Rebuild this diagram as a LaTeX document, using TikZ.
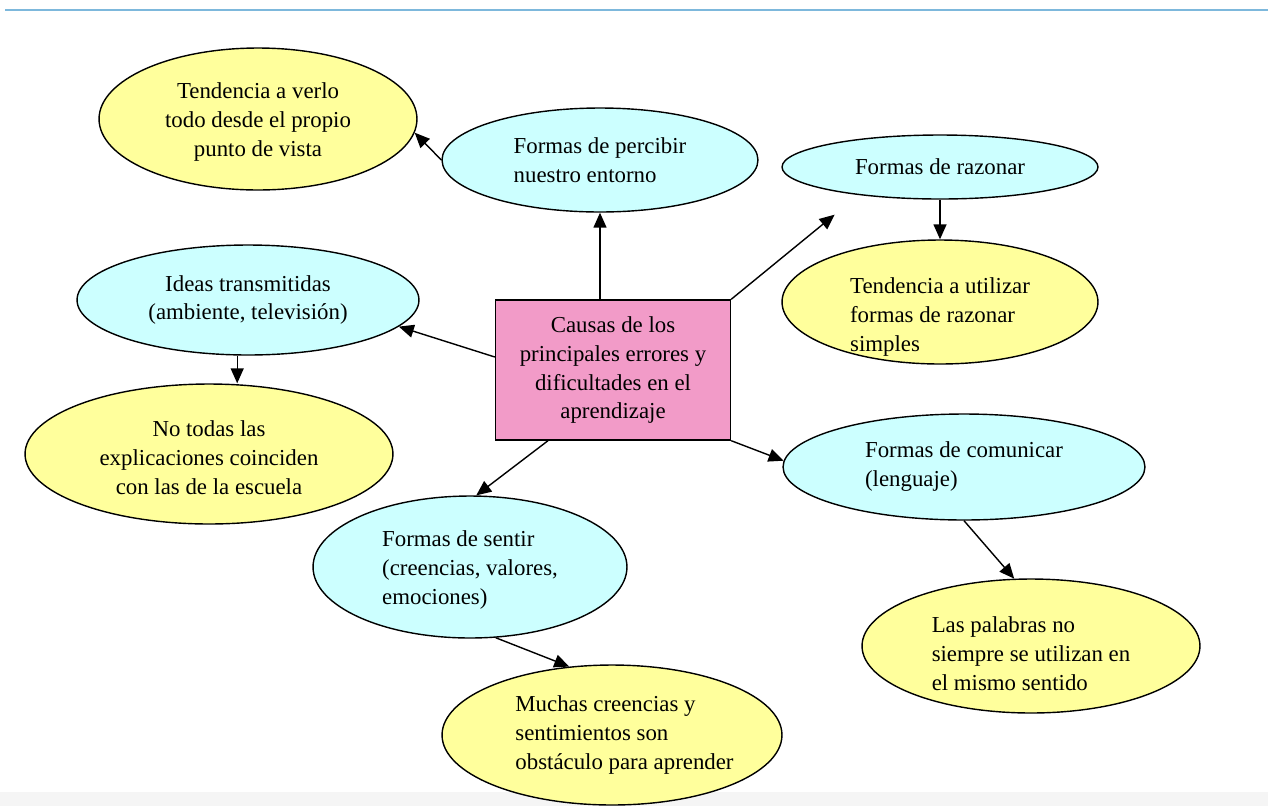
\documentclass[tikz,border=0pt]{standalone}
\usepackage{fontspec}
\setmainfont{Liberation Serif}
\usepackage{xcolor}
\definecolor{fffe9c}{HTML}{FFFF9C}
\definecolor{ccffff}{HTML}{CCFFFF}
\definecolor{f29bc8}{HTML}{F29BC8}
\definecolor{toprule}{HTML}{7DB8DC}
\usepackage{tikz}
\usetikzlibrary{shapes.geometric}
\usetikzlibrary{arrows.meta}
\newcommand{\dropby}[1]{\rule{0pt}{\dimexpr 9pt+#1+#1\relax}}

\begin{document}
\begin{tikzpicture}[x=0.02cm, y=-0.02cm,
    every node/.style={font=\fontsize{13}{16.5}\selectfont},
    idea/.style={ellipse, draw, line width=0.8pt, inner sep=-1cm, fill=ccffff},
    effect/.style={ellipse, draw, line width=0.8pt, inner sep=-1cm, fill=fffe9c},
    link/.style={-{Triangle[length=0.3cm, width=0.26cm]}, line width=0.8pt}]
            \useasboundingbox (0, 0) rectangle (1268, 806);
            \fill[gray!8] (0, 792) rectangle (1268, 806);
            \draw[toprule, line width=1.2pt] (5, 10) to (1268, 10);

            \node[rectangle, draw, line width=0.8pt, fill=f29bc8, minimum width=4.7cm, minimum height=2.8cm, align=center] (cause) at (613, 370) {Causas de los\\principales errores y\\dificultades en el\\aprendizaje};

            \node[idea, minimum width=6.32cm, minimum height=2.08cm, align=left] (perc) at (600, 160) {Formas de percibir\\nuestro entorno};
            \node[effect, minimum width=6.36cm, minimum height=2.84cm, align=center] (verlo) at (258, 119) {\dropby{0.06cm}Tendencia a verlo\\todo desde el propio\\punto de vista};
            \node[idea, minimum width=6.32cm, minimum height=1.28cm, align=center] (raz) at (940, 167) {Formas de razonar};
            \node[effect, minimum width=6.32cm, minimum height=2.48cm, align=left] (util) at (940, 302) {\dropby{0.3cm}Tendencia a utilizar\\formas de razonar\\simples};
            \node[idea, minimum width=6.84cm, minimum height=2.2cm, align=center] (ideas) at (248, 300) {Ideas transmitidas\\(ambiente, televisión)};
            \node[effect, minimum width=7.36cm, minimum height=2.8cm, align=center] (notodas) at (209, 454) {\dropby{0.08cm}No todas las\\explicaciones coinciden\\con las de la escuela};
            \node[idea, minimum width=7.24cm, minimum height=2.12cm, align=left] (comun) at (964, 467) {Formas de comunicar\\(lenguaje)};
            \node[idea, minimum width=6.28cm, minimum height=2.84cm, align=left] (sentir) at (470, 567) {\dropby{0.06cm}Formas de sentir\\(creencias, valores,\\emociones)};
            \node[effect, minimum width=6.76cm, minimum height=2.68cm, align=left] (palabras) at (1031, 646) {\dropby{0.16cm}Las palabras no\\siempre se utilizan en\\el mismo sentido};
            \node[effect, minimum width=6.8cm, minimum height=2.8cm, align=left] (muchas) at (612, 735) {\hspace*{0.5cm}Muchas creencias y\\\hspace*{0.5cm}sentimientos son\\\hspace*{0.5cm}obstáculo para aprender};

            \draw[link] (cause.north -| perc.south) to (perc.south);
            \draw[link] (perc.180) to (verlo.-5);
            \draw[link, shorten >=0.62cm] (cause.north east) to (raz.199);
            \draw[link] (raz.south) to (util.north);
            \draw[link] (cause.west |- 0, 357) to (ideas.-10);
            \draw[link] (ideas.-101) to (ideas.-101 |- notodas.north);
            \draw[link] (cause.south west -| 548, 0) to (sentir.85);
            \draw[link] (cause.south east) to (comun.178);
            \draw[link] (comun.south) to (palabras.104);
            \draw[link] (sentir.-70) to (muchas.122);
        \end{tikzpicture}
\end{document}
